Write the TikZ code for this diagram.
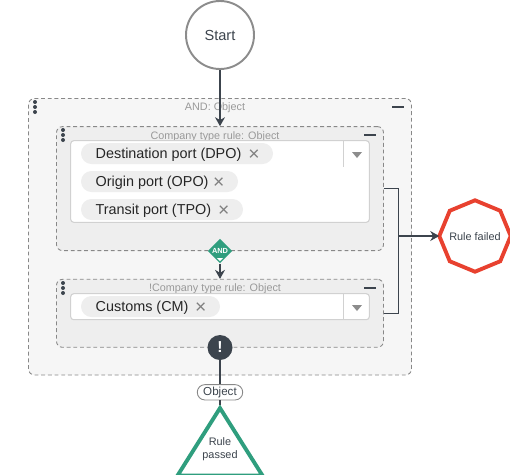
\documentclass[tikz,border=0pt]{standalone}
\usepackage{fontspec}
\setmainfont{Liberation Sans}
\usetikzlibrary{arrows.meta,shapes.geometric}
\definecolor{ruledark}{HTML}{3C444D}
\definecolor{rulegreen}{HTML}{2F9E7E}
\definecolor{rulered}{HTML}{E8412F}
\definecolor{dashgray}{HTML}{888888}
\definecolor{labelgray}{HTML}{999999}
\def\px{0.02cm}
\tikzset{
    groupbox/.style={draw=dashgray, dash pattern=on 2.2pt off 1.6pt, line width=0.5pt, rounded corners=6*\px, inner sep=0pt},
    whitebox/.style={draw=black!18, fill=white, line width=0.6pt, rounded corners=3*\px, inner sep=0pt},
    chipbox/.style={fill=black!6.5, rounded corners=10.5*\px, minimum height=21*\px, inner sep=0pt},
    chiptext/.style={anchor=west, inner sep=0pt, text=black!85, font=\fontsize{8.2}{10}\selectfont},
    chipcross/.style={inner sep=0pt, text=black!50, font=\fontsize{11}{12}\selectfont},
    grouplabel/.style={inner sep=0pt, text=labelgray, font=\fontsize{6.15}{7}\selectfont},
    endlabel/.style={inner sep=0pt, text=ruledark, align=center, font=\fontsize{6.2}{7.4}\selectfont},
    link/.style={draw=ruledark, line width=0.6pt},
    linkarrow/.style={link, -{Stealth[length=9*\px, width=10*\px]}},
    minusbar/.style={draw=ruledark, line width=1pt},
}
\begin{document}
\begin{tikzpicture}[x=0.02cm, y=-0.02cm]
    \useasboundingbox (0,0) rectangle (510,474);

    % Groups
    \node[groupbox, fill=black!3.5, minimum width=383*\px, minimum height=276.5*\px] (outer) at (220,236.75) {};
    \node[groupbox, fill=black!6.5, minimum width=327*\px, minimum height=124*\px] (typerule) at (220,188.6) {};
    \node[groupbox, fill=black!6.5, minimum width=327*\px, minimum height=68*\px] (nottyperule) at (220,313.3) {};

    % Group titles
    \node[grouplabel] (outertitle) at (215,108) {AND: Object};
    \node[grouplabel] (typetitle) at (215,136.5) {Company type rule: Object};
    \node[grouplabel] (nottitle) at (215,288.5) {!Company type rule: Object};

    % Handles
    \foreach \hx/\hy in {35/107, 63/135, 63/288} {
        \foreach \dy in {-5,0,5} {
            \fill[ruledark] (\hx,\hy+\dy) circle (2);
        }
    }
    \foreach \mx/\my in {398/107, 370/135, 370/288} {
        \draw[minusbar] (\mx-6,\my) -- (\mx+6,\my);
    }

    % Input boxes
    \node[whitebox, minimum width=298.6*\px, minimum height=81.6*\px] (typeinput) at (220,181.5) {};
    \node[whitebox, minimum width=298.6*\px, minimum height=26*\px] (notinput) at (220,306.7) {};
    \draw[draw=black!18, line width=0.6pt] (343.3,141) -- (343.3,167);
    \draw[draw=black!18, line width=0.6pt] (343.3,294) -- (343.3,320);
    \fill[black!45] (352,152) -- (362,152) -- (357,158) -- cycle;
    \fill[black!45] (352,305) -- (362,305) -- (357,311) -- cycle;

    % Chips
    \foreach \name/\cx/\cw/\cy/\tx/\lab in {
        dpo/177/192/153.5/254/{Destination port (DPO)},
        opo/159.5/157/181.5/218.7/{Origin port (OPO)},
        tpo/162/162/209.5/223.7/{Transit port (TPO)},
        cm/150.5/139/306.5/200.7/{Customs (CM)}} {
        \node[chipbox, minimum width=\cw*\px] (\name) at (\cx,\cy) {};
        \node[chiptext] (\name text) at (95.3,\cy+1.2) {\lab};
        \node[chipcross] (\name x) at (\tx,\cy+1.5) {×};
    }

    % Start and end shapes
    \node[circle, draw=black!45, line width=1.1pt, fill=white, minimum size=68*\px, inner sep=0pt, text=ruledark, font=\fontsize{8.3}{10}\selectfont] (start) at (220,35) {Start};
    \node[regular polygon, regular polygon sides=8, shape border rotate=22.5, draw=rulered, line width=2.2pt, fill=white, minimum size=71.4*\px, inner sep=0pt] (failed) at (475,236) {};
    \node[endlabel] (failedtext) at (475,237) {Rule failed};
    \coordinate (apextop) at (220,405);
    \node[isosceles triangle, isosceles triangle apex angle=65.4, isosceles triangle stretches, shape border rotate=90, draw=rulegreen, line width=2.2pt, fill=white, minimum height=67.5*\px, minimum width=85*\px, inner sep=0pt, anchor=apex] (passed) at (220,404.5) {};
    \node[endlabel] (passedtext) at (220,449.5) {Rule\\passed};

    % Operators
    \node[diamond, fill=rulegreen, minimum size=24.6*\px, inner sep=0pt, text=white, font=\bfseries\fontsize{4.2}{5}\selectfont] (andop) at (220,251) {AND};
    \fill[white] (217,258) -- (223,258) -- (220,261) -- cycle;
    \node[circle, fill=ruledark, minimum size=25*\px, inner sep=0pt, text=white, font=\bfseries\fontsize{9}{10}\selectfont] (notop) at (220,347.5) {!};
    \node[draw=dashgray, fill=white, rounded corners=7.5*\px, line width=0.5pt, minimum width=45.4*\px, minimum height=15.3*\px, inner sep=0pt, text=ruledark, font=\fontsize{6.6}{8}\selectfont] (objectpill) at (220,392.3) {Object};

    % Connectors
    \draw[linkarrow] (start) -- (typerule.north);
    \draw[linkarrow] (andop) -- (nottyperule.north);
    \draw[link] (notop) -- (objectpill);
    \draw[link] (objectpill) -- (apextop);
    \coordinate (join) at (398.5,236);
    \draw[link] (typerule.east) -| (join);
    \draw[link] (nottyperule.east) -| (join);
    \draw[linkarrow, shorten >=-2*\px] (join) -- (failed.west);
\end{tikzpicture}
\end{document}
